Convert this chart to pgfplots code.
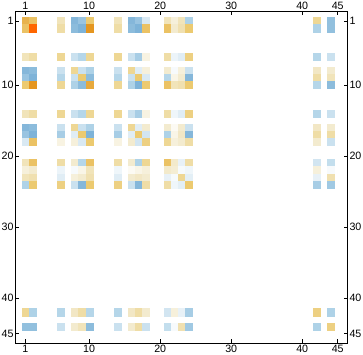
\documentclass[border=0pt]{standalone}
\usepackage{pgfplots}
\usepackage{pgfplotstable}
\usepackage{fontspec}
\setmainfont{Liberation Sans}
\pgfplotsset{compat=1.18}
\pgfplotsset{colormap={mm}{
 rgb255(0pt)=(112,170,212);
 rgb255(5pt)=(181,214,233);
 rgb255(8pt)=(224,237,245);
 rgb255(10pt)=(255,255,255);
 rgb255(12pt)=(243,235,207);
 rgb255(14pt)=(239,221,166);
 rgb255(15.5pt)=(236,202,112);
 rgb255(17pt)=(232,178,76);
 rgb255(18.5pt)=(229,150,32);
 rgb255(20pt)=(255,102,0)}}
\pgfplotstableread{
r  c1    c2    c6    c8    c9    c10   c14   c16   c17   c18   c21   c22   c23   c24   c42   c44
1  0.7   0.6   0.3   -0.85 -0.7  0.55  0.3   -0.85 -0.7  -0.25 0.3   0.15  0.3   -0.55 0.45  -0.75
2  0.6   1.0   0.4   -0.8  -0.9  0.85  0.4   -0.8  -0.9  0.6   0.6   0.2   0.35  0.55  -0.55 -0.75
6  0.3   0.4   0.45  -0.35 -0.5  0.45  0.45  -0.35 -0.6  0.12  0.4   -0.12 -0.2  0.5   -0.5  -0.35
8  -0.85 -0.8  -0.35 0.45  -0.35 -0.55 -0.35 0.45  -0.2  0.15  0.2   -0.05 0.15  -0.35 0.25  0.2
9  -0.7  -0.9  -0.5  -0.35 0.55  -0.8  -0.5  -0.35 0.55  -0.25 -0.5  0.1   0.2   -0.85 0.4   0.3
10 0.55  0.85  0.45  -0.55 -0.8  0.75  0.45  -0.55 -0.9  0.55  0.6   0.3   0.35  0.55  -0.5  -0.8
14 0.3   0.4   0.45  -0.35 -0.5  0.45  0.45  -0.35 -0.6  0.12  0.4   -0.1  -0.2  0.5   -0.5  -0.35
16 -0.85 -0.8  -0.35 0.45  -0.35 -0.55 -0.35 0.45  -0.2  0.2   0.2   0.05  0.2   -0.35 0.25  0.2
17 -0.7  -0.9  -0.6  -0.2  0.55  -0.9  -0.6  -0.2  0.55  -0.3  -0.55 0.1   0.25  -0.85 0.4   0.4
18 -0.25 0.6   0.12  0.15  -0.25 0.55  0.12  0.2   -0.3  0.5   0.45  0.15  0.2   0.4   0.2   -0.35
21 0.3   0.6   0.4   0.2   -0.5  0.6   0.4   0.2   -0.55 0.45  0.6   0.22  -0.15 0.4   -0.3  -0.4
22 0.15  0.2   -0.12 -0.05 0.1   0.3   -0.1  0.05  0.1   0.15  0.22  0.18  -0.06 -0.1  0.15  -0.05
23 0.3   0.35  -0.2  0.15  0.2   0.35  -0.2  0.2   0.25  0.2   -0.15 -0.06 0.45  -0.18 -0.15 0.35
24 -0.55 0.55  0.5   -0.35 -0.85 0.55  0.5   -0.35 -0.85 0.4   0.4   -0.1  -0.18 0.55  -0.6  -0.65
42 0.45  -0.55 -0.5  0.25  0.4   -0.5  -0.5  0.25  0.4   0.2   -0.3  0.15  -0.15 -0.6  0.5   -0.55
44 -0.75 -0.75 -0.35 0.2   0.3   -0.8  -0.35 0.2   0.4   -0.35 -0.4  -0.05 0.35  -0.65 -0.55 0.5
}\M
\begin{document}
\begin{tikzpicture}
\pgfplotsset{common/.style={
  x=5.33pt, y=5.33pt, y dir=reverse,
  xmin=-0.4, xmax=46.4, ymin=-0.4, ymax=46.4,
  xtick={1,10,20,30,40,45}, ytick={1,10,20,30,40,45},
  tick align=inside, major tick length=3pt,
  tick style={black, line width=0.5pt},
  axis line style={black, line width=0.6pt},
  tick label style={font=\fontsize{8}{9}\selectfont, black, inner sep=1.2pt},
  /pgf/number format/assume math mode=true,
  colormap name=mm, point meta min=-1, point meta max=1,
}}
\begin{axis}[common, xticklabel pos=lower, yticklabel pos=left]
\pgfplotsinvokeforeach{1,2,6,8,9,10,14,16,17,18,21,22,23,24,42,44}{
  \addplot[scatter, only marks, mark=square*, mark size=2.665pt,
    mark options={line width=0.15pt},
    point meta=explicit,
    scatter/use mapped color={draw=mapped color, fill=mapped color}]
    table[x expr=#1, y=r, meta=c#1]{\M};
}
\end{axis}
\begin{axis}[common, xticklabel pos=upper, yticklabel pos=right]
\end{axis}
\end{tikzpicture}
\end{document}
